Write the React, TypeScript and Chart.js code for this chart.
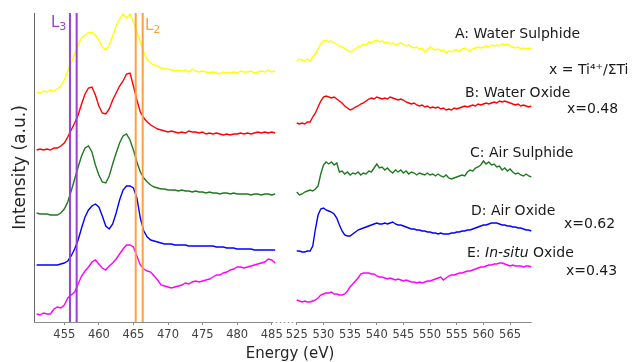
import React, { useEffect, useRef } from "react";
import { Chart, registerables } from "chart.js";

Chart.register(...registerables);

const FONT = '"DejaVu Sans", Verdana, sans-serif';

// ---- Energy grids (eV) ----
const leftEnergy = [
  451, 451.5, 452, 452.5, 453, 453.5, 454, 454.5, 455, 455.5,
  456, 456.5, 457, 457.5, 458, 458.5, 459, 459.5, 460, 460.5,
  461, 461.5, 462, 462.5, 463, 463.5, 464, 464.5, 465, 465.5,
  466, 466.5, 467, 467.5, 468, 468.5, 469, 469.5, 470, 470.5,
  471, 471.5, 472, 472.5, 473, 473.5, 474, 474.5, 475, 475.5,
  476, 476.5, 477, 477.5, 478, 478.5, 479, 479.5, 480, 480.5,
  481, 481.5, 482, 482.5, 483, 483.5, 484, 484.5, 485, 485.5,
];
const rightEnergy = [
  525, 525.5, 526, 526.5, 527, 527.5, 528, 528.5, 529, 529.5,
  530, 530.5, 531, 531.5, 532, 532.5, 533, 533.5, 534, 534.5,
  535, 535.5, 536, 536.5, 537, 537.5, 538, 538.5, 539, 539.5,
  540, 540.5, 541, 541.5, 542, 542.5, 543, 543.5, 544, 544.5,
  545, 545.5, 546, 546.5, 547, 547.5, 548, 548.5, 549, 549.5,
  550, 550.5, 551, 551.5, 552, 552.5, 553, 553.5, 554, 554.5,
  555, 555.5, 556, 556.5, 557, 557.5, 558, 558.5, 559, 559.5,
  560, 560.5, 561, 561.5, 562, 562.5, 563, 563.5, 564, 564.5,
  565, 565.5, 566, 566.5, 567, 567.5, 568, 568.5, 569,
];

// ---- Ti L-edge (left panel), offset intensities (a.u.) ----
const leftA = [
  230, 229, 231, 230, 232, 231, 233, 236, 242, 251,
  259, 268, 277, 284, 287, 289, 290, 287, 282, 275,
  272, 277, 286, 296, 303, 308, 304, 308, 300, 290,
  280, 270, 262, 259, 257, 256, 254, 253, 253, 252,
  251, 252, 251, 252, 250, 253, 251, 250, 251, 250,
  249, 250, 249, 248, 250, 249, 249, 250, 249, 251,
  250, 250, 251, 249, 250, 251, 250, 252, 250, 251,
];
const leftB = [
  172, 173, 172, 173, 172, 174, 174, 176, 179, 185,
  192, 199, 207, 218, 228, 234, 235, 227, 216, 209,
  208, 213, 222, 229, 236, 241, 248, 249, 236, 222,
  210, 204, 200, 197, 195, 193, 192, 191, 190, 191,
  190, 189, 190, 189, 191, 190, 190, 189, 190, 188,
  189, 188, 189, 188, 187, 188, 187, 188, 188, 189,
  188, 189, 188, 189, 190, 189, 190, 189, 190, 189,
];
const leftC = [
  109, 108, 108, 108, 107, 107, 107, 109, 113, 120,
  131, 143, 155, 166, 174, 176, 170, 157, 147, 140,
  139, 146, 158, 169, 179, 186, 188, 182, 172, 160,
  150, 144, 140, 137, 135, 134, 133, 133, 132, 132,
  132, 131, 132, 131, 131, 130, 131, 130, 130, 129,
  130, 129, 129, 128, 129, 129, 128, 129, 128, 128,
  128, 128, 127, 128, 128, 127, 128, 128, 127, 128,
];
const leftD = [
  57, 57, 57, 57, 57, 57, 57, 58, 59, 61,
  66, 73, 82, 94, 105, 112, 116, 118, 115, 106,
  96, 93, 98, 109, 122, 132, 136, 136, 134, 124,
  104, 91, 85, 82, 81, 80, 79, 78, 78, 78,
  77, 77, 77, 77, 76, 76, 76, 76, 76, 76,
  76, 76, 75, 75, 75, 74, 74, 74, 73, 73,
  73, 73, 73, 72, 72, 72, 72, 72, 72, 72,
];
const leftE = [
  8, 7, 9, 8, 8, 13, 15, 14, 17, 24,
  27, 30, 38, 46, 51, 55, 60, 62, 58, 54,
  52, 56, 59, 63, 68, 73, 77, 77, 75, 66,
  57, 53, 51, 50, 46, 42, 37, 36, 35, 34,
  35, 36, 37, 39, 38, 40, 41, 40, 41, 42,
  43, 45, 47, 47, 49, 50, 52, 53, 55, 55,
  54, 55, 56, 57, 58, 59, 60, 63, 62, 59,
];

// ---- O K-edge (right panel) ----
const rightA = [
  261, 263, 262, 261, 263, 261, 265, 268, 273, 278,
  281, 282, 280, 281, 279, 278, 276, 275, 273, 272,
  270, 271, 273, 275, 276, 278, 277, 280, 279, 281,
  282, 280, 281, 279, 280, 278, 279, 277, 278, 279,
  278, 276, 277, 275, 274, 275, 273, 274, 270, 272,
  275, 273, 272, 273, 271, 272, 269, 271, 270, 272,
  272, 271, 273, 274, 272, 271, 273, 274, 275, 274,
  275, 276, 275, 277, 276, 277, 276, 278, 277, 278,
  276, 275, 274, 275, 273, 274, 273, 274, 273,
];
const rightB = [
  199, 198, 199, 198, 200, 200, 205, 209, 215, 221,
  225, 226, 225, 224, 225, 223, 221, 219, 216, 214,
  212, 213, 215, 216, 218, 219, 221, 223, 224, 223,
  225, 224, 223, 224, 223, 225, 224, 223, 222, 223,
  222, 220, 219, 218, 219, 217, 216, 217, 215, 216,
  214, 215, 214, 215, 213, 214, 212, 213, 212, 214,
  213, 214, 215, 216, 215, 216, 217, 216, 218, 217,
  218, 219, 218, 219, 220, 219, 221, 220, 221, 220,
  219, 218, 217, 218, 216, 217, 216, 215, 216,
];
const rightC = [
  130, 127, 128, 130, 131, 132, 131, 133, 136, 148,
  157, 160, 158, 160, 157, 159, 150, 151, 148, 150,
  147, 149, 148, 150, 147, 149, 148, 151, 150, 154,
  158, 154, 155, 152, 154, 151, 149, 152, 150, 152,
  149, 151, 148, 150, 149, 147, 149, 148, 147, 149,
  147, 148, 146, 148, 146, 145, 147, 144, 143, 144,
  145, 146, 147, 146, 150, 152, 151, 154, 155, 157,
  161, 158, 160, 157, 158, 155, 156, 152, 154, 151,
  153, 150, 148, 149, 147, 146, 148, 146, 145,
];
const rightD = [
  71, 71, 70, 70, 71, 71, 76, 93, 107, 113,
  114, 112, 111, 110, 108, 104, 97, 91, 87, 86,
  86, 88, 90, 92, 93, 94, 95, 96, 97, 98,
  99, 98, 98, 99, 98, 99, 100, 98, 97, 97,
  96, 95, 94, 93, 93, 92, 92, 91, 91, 90,
  90, 89, 89, 88, 89, 88, 88, 88, 89, 89,
  90, 90, 91, 91, 92, 92, 93, 94, 95, 96,
  97, 97, 98, 99, 99, 99, 98, 97, 97, 96,
  96, 95, 95, 94, 94, 93, 92, 92, 91,
];
const rightE = [
  22, 21, 20, 21, 20, 20, 21, 22, 24, 27,
  28, 29, 29, 30, 28, 28, 27, 27, 28, 31,
  35, 38, 41, 44, 48, 49, 49, 49, 48, 48,
  46, 45, 45, 44, 43, 44, 43, 42, 43, 42,
  41, 42, 41, 40, 40, 39, 40, 39, 40, 41,
  41, 42, 43, 44, 45, 42, 44, 46, 47, 47,
  48, 49, 49, 50, 51, 51, 52, 53, 54, 55,
  55, 56, 57, 57, 58, 58, 59, 59, 58, 57,
  56, 57, 56, 56, 56, 55, 56, 56, 55,
];

// ---- Edge markers (eV) ----
const L3Energies = [455.82, 456.79];
const L2Energies = [465.33, 466.34];

// ---- Tick labels ----
const leftTicks = [455, 460, 465, 470, 475, 480, 485];
const rightTicks = [525, 530, 535, 540, 545, 550, 555, 560, 565];

const seriesColors = ["#ffff00", "#ff0000", "#1e7a1e", "#0000ff", "#ff00ff"];
const L3Color = "#9b3fd4";
const L2Color = "#ffa040";

// broken axis: left segment plotted at its own energy, right segment compressed
const X_MIN = 450.62;
const X_MAX = 522.6;
const RIGHT_V0 = 488.62; // axis position of 525 eV
const RIGHT_SCALE = 0.7714; // right panel eV -> axis units
const Y_MAX = 309;

const toLeft = (e: number) => e;
const toRight = (e: number) => RIGHT_V0 + (e - 525) * RIGHT_SCALE;
const fromAxis = (v: number) => (v < 487 ? v : 525 + (v - RIGHT_V0) / RIGHT_SCALE);

function line(xs: number[], ys: number[], map: (e: number) => number, color: string, width = 1.4) {
  return {
    data: xs.map((x, i) => ({ x: map(x), y: ys[i] })),
    borderColor: color,
    backgroundColor: color,
    borderWidth: width,
    pointRadius: 0,
    fill: false,
    tension: 0,
  };
}

const annotationPlugin = {
  id: "annotations",
  afterDraw(chart: any) {
    const { ctx, chartArea } = chart;
    const xs = chart.scales.x;
    ctx.save();
    // bottom axis with break
    const y = Math.floor(chartArea.bottom) + 0.5;
    const pL = xs.getPixelForValue(485);
    const pR = xs.getPixelForValue(RIGHT_V0);
    ctx.strokeStyle = "#8c8c8c";
    ctx.lineWidth = 1;
    ctx.beginPath();
    ctx.moveTo(chartArea.left, y);
    ctx.lineTo(pL, y);
    ctx.moveTo(pR, y);
    ctx.lineTo(chartArea.right, y);
    ctx.stroke();
    ctx.setLineDash([1.5, 2.5]);
    ctx.beginPath();
    ctx.moveTo(pL, y);
    ctx.lineTo(pR, y);
    ctx.stroke();
    ctx.setLineDash([]);

    // axis titles
    ctx.fillStyle = "#262626";
    ctx.textBaseline = "alphabetic";
    ctx.textAlign = "center";
    ctx.font = `15px ${FONT}`;
    ctx.fillText("Energy (eV)", 290, 358);
    ctx.save();
    ctx.translate(25, (chartArea.top + chartArea.bottom) / 2);
    ctx.rotate(-Math.PI / 2);
    ctx.font = `17px ${FONT}`;
    ctx.fillText("Intensity (a.u.)", 0, 0);
    ctx.restore();

    // edge labels
    ctx.textAlign = "left";
    ctx.fillStyle = L3Color;
    ctx.font = `15px ${FONT}`;
    ctx.fillText("L", 51, 27);
    let w = ctx.measureText("L").width;
    ctx.font = `11px ${FONT}`;
    ctx.fillText("3", 51 + w, 30);
    ctx.fillStyle = L2Color;
    ctx.font = `15px ${FONT}`;
    ctx.fillText("L", 145, 30);
    w = ctx.measureText("L").width;
    ctx.font = `11px ${FONT}`;
    ctx.fillText("2", 145 + w, 33);

    // sample labels
    ctx.fillStyle = "#1a1a1a";
    ctx.font = `14px ${FONT}`;
    ctx.fillText("A: Water Sulphide", 455, 38);
    ctx.fillText("x = Ti\u2074\u207A/\u03A3Ti", 549, 74);
    ctx.fillText("B: Water Oxide", 465, 97);
    ctx.fillText("x=0.48", 567, 113);
    ctx.fillText("C: Air Sulphide", 470, 157);
    ctx.fillText("D: Air Oxide", 471, 215);
    ctx.fillText("x=0.62", 564, 228);
    let x = 467;
    ctx.fillText("E: ", x, 257);
    x += ctx.measureText("E: ").width;
    ctx.font = `italic 14px ${FONT}`;
    ctx.fillText("In-situ", x, 257);
    x += ctx.measureText("In-situ").width;
    ctx.font = `14px ${FONT}`;
    ctx.fillText(" Oxide", x, 257);
    ctx.fillText("x=0.43", 566, 275);
    ctx.restore();
  },
};

export default function App() {
  const ref = useRef<HTMLCanvasElement | null>(null);

  useEffect(() => {
    if (!ref.current) return;
    const vline = (e: number, color: string) => ({
      data: [
        { x: e, y: 0 },
        { x: e, y: Y_MAX },
      ],
      borderColor: color,
      backgroundColor: color,
      borderWidth: 2,
      pointRadius: 0,
      fill: false,
    });
    const datasets: any[] = [
      ...L3Energies.map((e) => vline(e, L3Color)),
      ...L2Energies.map((e) => vline(e, L2Color)),
      line(leftEnergy, leftA, toLeft, seriesColors[0]),
      line(leftEnergy, leftB, toLeft, seriesColors[1]),
      line(leftEnergy, leftC, toLeft, seriesColors[2]),
      line(leftEnergy, leftD, toLeft, seriesColors[3]),
      line(leftEnergy, leftE, toLeft, seriesColors[4]),
      line(rightEnergy, rightA, toRight, seriesColors[0]),
      line(rightEnergy, rightB, toRight, seriesColors[1]),
      line(rightEnergy, rightC, toRight, seriesColors[2]),
      line(rightEnergy, rightD, toRight, seriesColors[3]),
      line(rightEnergy, rightE, toRight, seriesColors[4]),
    ];
    const tickValues = [...leftTicks.map(toLeft), ...rightTicks.map(toRight)];

    const chart = new Chart(ref.current, {
      type: "line",
      data: { datasets },
      options: {
        animation: false,
        responsive: true,
        maintainAspectRatio: false,
        layout: { padding: { top: 13, right: 102.3, left: 0, bottom: 0 } },
        plugins: { legend: { display: false }, tooltip: { enabled: false } },
        scales: {
          x: {
            type: "linear",
            min: X_MIN,
            max: X_MAX,
            afterBuildTicks: (scale: any) => {
              scale.ticks = tickValues.map((v) => ({ value: v }));
            },
            afterFit: (scale: any) => {
              scale.height = 40;
            },
            ticks: {
              autoSkip: false,
              maxRotation: 0,
              padding: 3,
              color: "#404040",
              font: { family: FONT, size: 11.5 },
              callback: (value: any) => String(Math.round(fromAxis(Number(value)))),
            },
            grid: {
              display: true,
              drawOnChartArea: false,
              drawTicks: true,
              tickLength: 3,
              color: "#8c8c8c",
            },
            border: { display: false },
          },
          y: {
            type: "linear",
            min: 0,
            max: Y_MAX,
            afterFit: (scale: any) => {
              scale.width = 34;
            },
            ticks: { display: false },
            grid: { display: false, drawTicks: false },
            border: { display: true, color: "#666666", width: 1 },
          },
        },
      },
      plugins: [annotationPlugin],
    });
    return () => chart.destroy();
  }, []);

  return (
    <div style={{ position: "absolute", left: 0, top: 0, width: 634, height: 362, background: "#ffffff" }}>
      <canvas ref={ref} />
    </div>
  );
}
